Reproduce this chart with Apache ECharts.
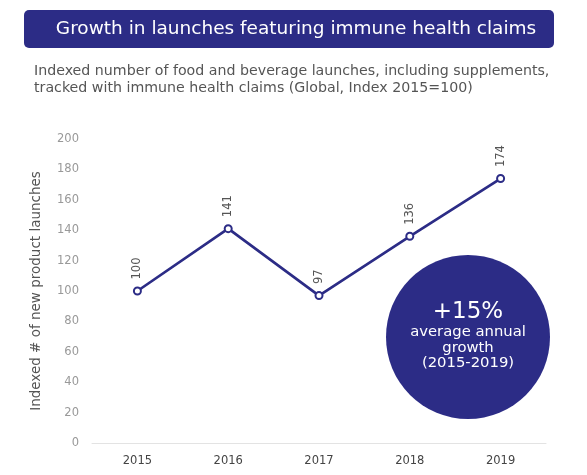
<!DOCTYPE html>
<html><head><meta charset="utf-8">
<script src="https://cdn.jsdelivr.net/npm/echarts@6/dist/echarts.min.js"></script>
<style>html,body{margin:0;padding:0;background:#fff}#c{width:587px;height:475px}</style>
</head><body><div id="c"></div>
<script>
var years = ['2015','2016','2017','2018','2019'];
var indexValues = [100, 141, 97, 136, 174];
var yTicks = {min: 0, max: 200, interval: 20};
var titleText = 'Growth in launches featuring immune health claims';
var subtitleText = 'Indexed number of food and beverage launches, including supplements,\ntracked with immune health claims (Global, Index 2015=100)';
var yAxisName = 'Indexed # of new product launches';
var badgeBig = '+15%';
var badgeSmall = 'average annual\ngrowth\n(2015-2019)';

var navy = '#2c2c86';
var font = 'DejaVu Sans';
var chart = echarts.init(document.getElementById('c'));
chart.setOption({
  animation: false,
  textStyle: {fontFamily: font},
  grid: {left: 92, right: 41, top: 139, bottom: 32},
  graphic: [
    {type: 'rect', shape: {x: 24, y: 10, width: 530, height: 38, r: 5}, style: {fill: navy}},
    {type: 'text', x: 296, y: 29, style: {text: titleText, fill: '#fff', font: '18.5px ' + font, align: 'center', verticalAlign: 'middle'}},
    {type: 'text', x: 34, y: 63, style: {text: subtitleText, fill: '#555', font: '14.2px ' + font, lineHeight: 17}},
    {type: 'circle', shape: {cx: 468, cy: 337, r: 82}, style: {fill: navy}, z: 10},
    {type: 'text', x: 468, y: 312, z: 11, style: {text: badgeBig, fill: '#fff', font: '23px ' + font, align: 'center', verticalAlign: 'middle'}},
    {type: 'text', x: 468, y: 348, z: 11, style: {text: badgeSmall, fill: '#fff', font: '14.8px ' + font, align: 'center', verticalAlign: 'middle', lineHeight: 15.5}}
  ],
  xAxis: {
    type: 'category', data: years, boundaryGap: true,
    axisLine: {lineStyle: {color: '#e3e3e3', width: 1}},
    axisTick: {show: false},
    axisLabel: {color: '#444', fontSize: 11.5, margin: 12}
  },
  yAxis: {
    type: 'value', min: yTicks.min, max: yTicks.max, interval: yTicks.interval,
    name: yAxisName, nameLocation: 'middle', nameGap: 49, nameRotate: 90,
    nameTextStyle: {color: '#555', fontSize: 13.5},
    axisLine: {show: false}, axisTick: {show: false}, splitLine: {show: false},
    axisLabel: {color: '#999', fontSize: 11.5, margin: 13}
  },
  series: [{
    type: 'line', data: indexValues,
    lineStyle: {color: navy, width: 2.7},
    itemStyle: {color: '#fff', borderColor: navy, borderWidth: 2},
    symbol: 'circle', symbolSize: 7,
    label: {show: true, position: 'top', rotate: 90, distance: 7, color: '#555', fontSize: 11.5, align: 'left', verticalAlign: 'middle'}
  }]
});
</script></body></html>
